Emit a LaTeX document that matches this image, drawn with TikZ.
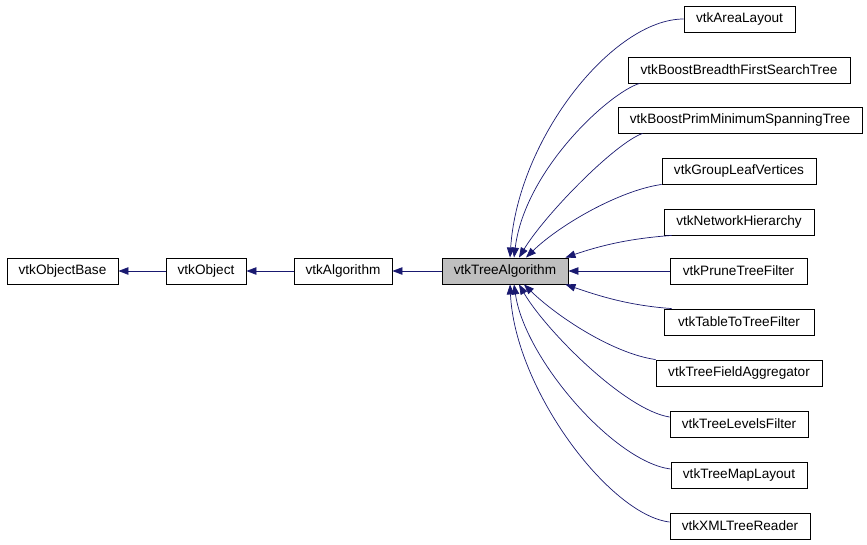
\documentclass[tikz,border=0pt]{standalone}
\usepackage{fontspec}
\setmainfont{Liberation Sans}
\usetikzlibrary{arrows.meta, positioning}
\definecolor{garisbiru}{RGB}{25,25,112}
\definecolor{abuabu}{RGB}{191,191,191}

\begin{document}
\begin{tikzpicture}[x=1pt, y=-1pt, font=\fontsize{13.6}{15}\selectfont,
        cls/.style={rectangle, draw=black, line width=0.9pt, fill=white,
                    inner xsep=4pt, inner ysep=0pt, minimum height=26pt, minimum width=#1},
        cls/.default=100pt,
        edge/.style={draw=garisbiru, line width=0.7pt,
                     -{Triangle[length=10pt, width=7.5pt]}}
    ]
        \useasboundingbox (0,0) rectangle (867,544);
        % rantai induk
        \node[cls=111pt] (objbase) at (62.5,271) {vtkObjectBase};
        \node[cls=80pt]  (obj)     at (206,271)  {vtkObject};
        \node[cls=98pt]  (algo)    at (343,271)  {vtkAlgorithm};
        \node[cls=126pt, fill=abuabu] (tree) at (505,271) {vtkTreeAlgorithm};
        % kelas turunan
        \node[cls=111pt] (area)    at (739.5,19) {vtkAreaLayout};
        \node[cls=222pt] (bfs)     at (739,70)   {vtkBoostBreadthFirstSearchTree};
        \node[cls=244pt] (prim)    at (740,120)  {vtkBoostPrimMinimumSpanningTree};
        \node[cls=154pt] (group)   at (739,171)  {vtkGroupLeafVertices};
        \node[cls=150pt] (net)     at (739,222)  {vtkNetworkHierarchy};
        \node[cls=137pt] (prune)   at (738.5,271) {vtkPruneTreeFilter};
        \node[cls=150pt] (table)   at (739,322)  {vtkTableToTreeFilter};
        \node[cls=166pt] (field)   at (739,373)  {vtkTreeFieldAggregator};
        \node[cls=138pt] (levels)  at (739,424)  {vtkTreeLevelsFilter};
        \node[cls=136pt] (treemap) at (739,475)  {vtkTreeMapLayout};
        \node[cls=140pt] (xml)     at (740,526)  {vtkXMLTreeReader};

        \draw[edge] (obj.west) -- (objbase.east);
        \draw[edge] (algo.west) -- (obj.east);
        \draw[edge] (tree.west) -- (algo.east);

        \draw[edge] (area.west) .. controls +(-70,0) and +(8,-120) .. ([xshift=5pt]tree.north);
        \draw[edge] ([xshift=12pt]bfs.south west) .. controls +(-30,9) and +(11,-88) .. ([xshift=9pt]tree.north);
        \draw[edge] ([xshift=25pt]prim.south west) .. controls +(-28,10) and +(26,-43) .. ([xshift=14pt]tree.north);
        \draw[edge] (group.south west) .. controls +(-42,6) and +(34,-33) .. ([xshift=21pt]tree.north);
        \draw[edge] ([xshift=8pt]net.south west) .. controls +(-42,3) and +(35,-12) .. ([xshift=-3pt]tree.north east);
        \draw[edge] (prune.west) -- (tree.east);
        \draw[edge] ([xshift=8pt]table.north west) .. controls +(-42,-3) and +(35,12) .. ([xshift=-3pt]tree.south east);
        \draw[edge] (field.north west) .. controls +(-42,-6) and +(34,33) .. ([xshift=19pt]tree.south);
        \draw[edge] ([yshift=7pt]levels.west) .. controls +(-45,-7) and +(26,45) .. ([xshift=14pt]tree.south);
        \draw[edge] ([yshift=6pt]treemap.west) .. controls +(-56,-7) and +(11,75) .. ([xshift=9pt]tree.south);
        \draw[edge] ([yshift=4pt]xml.west) .. controls +(-60,-7) and +(5,105) .. ([xshift=5pt]tree.south);
    \end{tikzpicture}
\end{document}
